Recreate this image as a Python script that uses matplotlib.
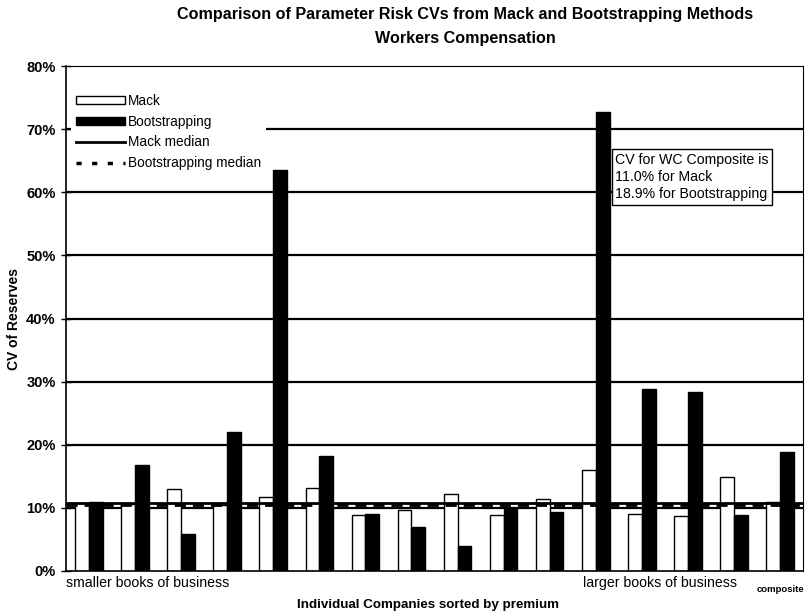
import matplotlib
matplotlib.use("Agg")
import matplotlib.pyplot as plt
from matplotlib.patches import Patch
from matplotlib.lines import Line2D
from matplotlib.ticker import FuncFormatter
import numpy as np

# ---- data (CV of reserves, %) ----
companies = [f"C{i+1}" for i in range(15)] + ["composite"]
mack = [10.7, 10.6, 13.0, 10.5, 11.7, 13.1, 8.8, 9.6, 12.2, 8.9, 11.4, 16.0, 9.1, 8.7, 14.9, 11.0]
boot = [10.9, 16.8, 5.9, 22.0, 63.5, 18.2, 9.1, 6.9, 4.0, 10.0, 9.4, 72.7, 28.8, 28.4, 8.8, 18.9]
mack_median = 10.8
boot_median = 10.4
yticks = [0, 10, 20, 30, 40, 50, 60, 70, 80]

plt.rcParams['font.family'] = ['Liberation Sans', 'DejaVu Sans']

fig = plt.figure(figsize=(8.05, 6.15), dpi=100)
ax = fig.add_axes([66/805, 1-571/615, (803-66)/805, (571-66)/615])

x = np.arange(len(companies))
w = 0.3
ax.bar(x - w/2, mack, width=w, color='white', edgecolor='black', linewidth=1.0, zorder=2)
ax.bar(x + w/2, boot, width=w, color='black', edgecolor='black', linewidth=1.0, zorder=2)

ax.set_xlim(-0.5, len(companies) - 0.5)
ax.set_ylim(0, 80)
ax.axhline(mack_median, color='black', lw=2.0, zorder=3)
ax.axhline(boot_median, color='black', lw=2.0, ls=(0, (4, 2.5)), zorder=3)

for yv in yticks[1:-1]:
    ax.axhline(yv, color='black', lw=1.6, zorder=1)

ax.set_yticks(yticks)
ax.yaxis.set_major_formatter(FuncFormatter(lambda v, p: f"{int(v)}%"))
ax.tick_params(axis='y', direction='inout', length=7, width=1, labelsize=10.5, pad=4)
for lab in ax.get_yticklabels():
    lab.set_fontweight('bold')
ax.set_xticks([])
for s in ['top', 'right']:
    ax.spines[s].set_linewidth(0.8)
for s in ['left', 'bottom']:
    ax.spines[s].set_linewidth(1.2)

ax.set_ylabel("CV of Reserves", fontweight='bold', fontsize=10, labelpad=4)

fig.text(465/805, 1-14/615, "Comparison of Parameter Risk CVs from Mack and Bootstrapping Methods",
         ha='center', va='center', fontweight='bold', fontsize=11.6)
fig.text(465/805, 1-38/615, "Workers Compensation", ha='center', va='center',
         fontweight='bold', fontsize=11.6)

fig.text(66/805, 1-583/615, "smaller books of business", ha='left', va='center', fontsize=10.2)
fig.text(583/805, 1-583/615, "larger books of business", ha='left', va='center', fontsize=10.2)
fig.text(804/805, 1-589/615, "composite", ha='right', va='center', fontsize=6.8, fontweight='bold')
fig.text(428/805, 1-605/615, "Individual Companies sorted by premium", ha='center', va='center',
         fontsize=9.6, fontweight='bold')

handles = [Patch(facecolor='white', edgecolor='black', lw=1.0),
           Patch(facecolor='black', edgecolor='black'),
           Line2D([0], [0], color='black', lw=2),
           Line2D([0], [0], color='black', lw=2.5, ls=(0, (1.5, 3)))]
labels = ["Mack", "Bootstrapping", "Mack median", "Bootstrapping median"]
leg = ax.legend(handles, labels, loc='upper left', bbox_to_anchor=(0.0, 0.965), frameon=True,
                fontsize=9.8, handlelength=3.6, handleheight=0.6, handletextpad=0.2,
                labelspacing=0.5, borderpad=0.35, borderaxespad=0.4, fancybox=False)
leg.get_frame().set_edgecolor('none')
leg.get_frame().set_facecolor('white')
leg.get_frame().set_alpha(1)
leg.set_zorder(5)

ax.text(0.745, 0.828, "CV for WC Composite is\n11.0% for Mack\n18.9% for Bootstrapping",
        transform=ax.transAxes, ha='left', va='top', fontsize=10.2, linespacing=1.3, zorder=6,
        bbox=dict(boxstyle='square,pad=0.25', facecolor='white', edgecolor='black', lw=1.0))

fig.savefig("out.png", dpi=100)
